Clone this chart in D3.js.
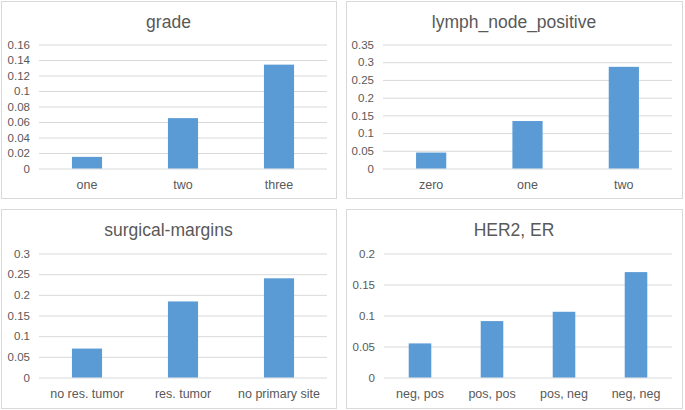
<!DOCTYPE html>
<html>
<head>
<meta charset="utf-8">
<script src="https://cdn.jsdelivr.net/npm/d3@7"></script>
<style>
  body { margin: 0; background: #fff; }
  svg { display: block; font-family: "Liberation Sans", Arial, sans-serif; }
</style>
</head>
<body>
<svg id="chart" width="685" height="410"></svg>
<script>
// ---- data ----
var gradeCats = ["one", "two", "three"];
var gradeVals = [0.015, 0.065, 0.134];
var gradeTicks = [0, 0.02, 0.04, 0.06, 0.08, 0.1, 0.12, 0.14, 0.16];

var lymphCats = ["zero", "one", "two"];
var lymphVals = [0.045, 0.134, 0.287];
var lymphTicks = [0, 0.05, 0.1, 0.15, 0.2, 0.25, 0.3, 0.35];

var marginCats = ["no res. tumor", "res. tumor", "no primary site"];
var marginVals = [0.07, 0.184, 0.24];
var marginTicks = [0, 0.05, 0.1, 0.15, 0.2, 0.25, 0.3];

var herCats = ["neg, pos", "pos, pos", "pos, neg", "neg, neg"];
var herVals = [0.055, 0.091, 0.106, 0.17];
var herTicks = [0, 0.05, 0.1, 0.15, 0.2];

var svg = d3.select("#chart");
var textColor = "#595959";
var lineColor = "#d9d9d9";
var barColor = "#5b9bd5";

// one Excel-style column chart inside a bordered box
function drawPanel(p) {
    var g = svg.append("g").attr("class", "panel");

    // outer frame
    g.append("rect")
        .attr("x", p.box[0] + 0.5).attr("y", p.box[1] + 0.5)
        .attr("width", p.box[2] - p.box[0]).attr("height", p.box[3] - p.box[1])
        .attr("fill", "#fff").attr("stroke", lineColor).attr("stroke-width", 1);

    // title
    g.append("text")
        .attr("x", (p.box[0] + p.box[2]) / 2)
        .attr("y", p.box[1] + 27)
        .attr("text-anchor", "middle")
        .attr("font-size", "17.5px")
        .attr("fill", textColor)
        .text(p.title);

    var y = d3.scaleLinear()
        .domain([0, p.ticks[p.ticks.length - 1]])
        .range([p.plot[3], p.plot[1]]);

    var x = d3.scaleBand()
        .domain(p.cats)
        .range([p.plot[0], p.plot[2]])
        .padding(0);

    // gridlines + tick labels
    var yAxis = d3.axisLeft(y)
        .tickValues(p.ticks)
        .tickSize(-(p.plot[2] - p.plot[0]))
        .tickPadding(9)
        .tickFormat(function(d) { return String(+d.toFixed(3)); });

    var ag = g.append("g")
        .attr("transform", "translate(" + p.plot[0] + ",0)")
        .call(yAxis);
    ag.select(".domain").remove();
    ag.selectAll(".tick line").attr("stroke", lineColor);
    ag.selectAll(".tick text")
        .attr("fill", textColor)
        .attr("font-size", "11.5px")
        .attr("font-family", "Liberation Sans, Arial, sans-serif");

    // bars: Excel gap width ~219%
    var barW = x.bandwidth() / 3.19;
    g.selectAll(".bar")
        .data(p.vals)
        .enter().append("rect")
        .attr("class", "bar")
        .attr("x", function(d, i) { return x(p.cats[i]) + (x.bandwidth() - barW) / 2; })
        .attr("y", function(d) { return y(d); })
        .attr("width", barW)
        .attr("height", function(d) { return y(0) - y(d); })
        .attr("fill", barColor);

    // category labels
    var xAxis = d3.axisBottom(x).tickSize(0).tickPadding(12);
    var xg = g.append("g")
        .attr("transform", "translate(0," + y(0) + ")")
        .call(xAxis);
    xg.select(".domain").remove();
    xg.selectAll(".tick text")
        .attr("fill", textColor)
        .attr("font-size", "12.5px")
        .attr("font-family", "Liberation Sans, Arial, sans-serif");
}

drawPanel({ title: "grade", cats: gradeCats, vals: gradeVals, ticks: gradeTicks,
            box: [1, 1, 336, 198], plot: [39, 44.5, 327, 168.5] });
drawPanel({ title: "lymph_node_positive", cats: lymphCats, vals: lymphVals, ticks: lymphTicks,
            box: [346, 1, 682, 198], plot: [383, 44.5, 672, 168.5] });
drawPanel({ title: "surgical-margins", cats: marginCats, vals: marginVals, ticks: marginTicks,
            box: [1, 209, 336, 408], plot: [39, 253.5, 327, 377.5] });
drawPanel({ title: "HER2, ER", cats: herCats, vals: herVals, ticks: herTicks,
            box: [346, 209, 682, 408], plot: [384, 253.5, 672, 377.5] });
</script>
</body>
</html>
